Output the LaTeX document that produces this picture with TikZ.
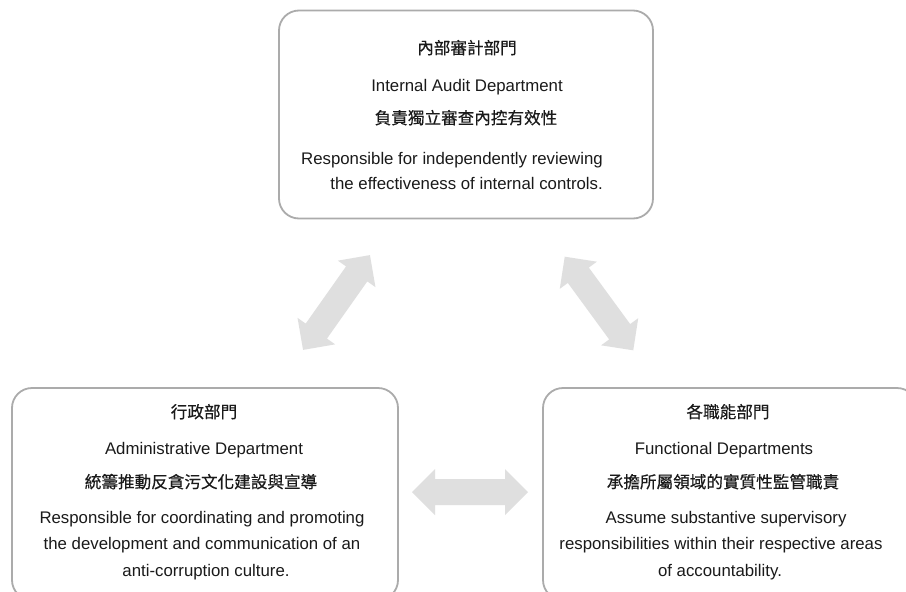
\documentclass[tikz,border=0pt]{standalone}
\usepackage{fontspec}
\setmainfont{Liberation Sans}
\newfontfamily\cjk[FakeBold=0.4]{Noto Sans CJK TC}
\definecolor{boxgray}{HTML}{ABABAB}
\definecolor{arrowgray}{HTML}{DFDFDF}
\definecolor{txt}{HTML}{1A1A1A}
\begin{document}
\begin{tikzpicture}[x=1pt,y=-1pt,
  box/.style={draw=boxgray, line width=1.8pt, rounded corners=20pt, fill=white, inner sep=0pt},
  en/.style={anchor=base, inner sep=0pt, text=txt, font=\fontsize{16.8}{20}\selectfont},
  zh/.style={anchor=base, inner sep=0pt, text=txt, font=\cjk\fontsize{16.6}{20}\selectfont},
  fatarrow/.pic={\fill[arrowgray] (-58,0) -- (-35,-23) -- (-35,-13) -- (35,-13) -- (35,-23) -- (58,0)
      -- (35,23) -- (35,13) -- (-35,13) -- (-35,23) -- cycle;}]
\useasboundingbox (0,0) rectangle (906,592);
\clip (0,0) rectangle (906,592);
\fill[white] (0,0) rectangle (906,592);

% boxes
\node[box, minimum width=374pt, minimum height=208pt] (audit) at (466,114.5) {};
\node[box, minimum width=386pt, minimum height=212pt] (admin) at (205,494) {};
\node[box, minimum width=374pt, minimum height=212pt] (func) at (730,494) {};

% top box texts
\node[zh] (a1) at (467,54) {內部審計部門};
\node[en] (a2) at (467,91) {Internal Audit Department};
\node[zh] (a3) at (466,124) {負責獨立審查內控有效性};
\node[en, anchor=base east] (a4) at (603,164) {Responsible for independently reviewing};
\node[en, anchor=base east] (a5) at (603,189) {the effectiveness of internal controls.};

% left box texts
\node[zh] (b1) at (204,418) {行政部門};
\node[en] (b2) at (204,454) {Administrative Department};
\node[zh] (b3) at (201,488) {統籌推動反貪污文化建設與宣導};
\node[en] (b4) at (202,523) {Responsible for coordinating and promoting};
\node[en] (b5) at (202,549) {the development and communication of an};
\node[en] (b6) at (206,576) {anti-corruption culture.};

% right box texts
\node[zh] (c1) at (728,418) {各職能部門};
\node[en] (c2) at (724,454) {Functional Departments};
\node[zh] (c3) at (723,488) {承擔所屬領域的實質性監管職責};
\node[en] (c4) at (726,523) {Assume substantive supervisory};
\node[en] (c5) at (721,549) {responsibilities within their respective areas};
\node[en] (c6) at (720,576) {of accountability.};

% double arrows
\pic[rotate=54.8] at (336.5,302.5) {fatarrow};
\pic[rotate=-53.8] at (599,303.5) {fatarrow};
\pic at (470,492) {fatarrow};
\end{tikzpicture}
\end{document}
